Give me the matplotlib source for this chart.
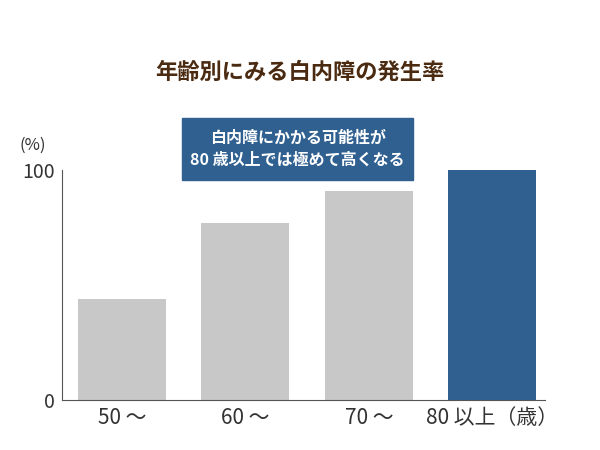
import matplotlib
matplotlib.use('Agg')
import matplotlib.pyplot as plt

plt.rcParams['font.family'] = 'Noto Sans CJK JP'

categories = ['50 ～', '60 ～', '70 ～', '80 以上（歳）']
values = [44, 77, 91, 100]
colors = ['#c8c8c9', '#c8c8c9', '#c8c8c9', '#2f6090']

fig = plt.figure(figsize=(6, 4.5), dpi=100)
ax = fig.add_axes([0.103, 0.111, 0.805, 0.511])
x = list(range(len(values)))
ax.bar(x, values, width=0.713, color=colors)
ax.set_xlim(-0.486, 3.425)
ax.set_ylim(0, 100)
ax.set_yticks([0, 100])
ax.set_yticklabels(['0', '100'], fontsize=14, color='#333333')
ax.set_xticks(x)
ax.set_xticklabels(categories, fontsize=15, color='#333333')
ax.tick_params(length=0, pad=5)
ax.spines['top'].set_visible(False)
ax.spines['right'].set_visible(False)
ax.spines['left'].set_color('#555555')
ax.spines['bottom'].set_color('#555555')

fig.text(0.5, 0.84, '年齢別にみる白内障の発生率', ha='center', va='center',
         fontsize=16, fontweight='bold', color='#4a2a10')
fig.text(0.055, 0.678, '(%)', ha='center', va='center', fontsize=12, color='#333333')

box = plt.Rectangle((0.303, 0.6), 0.385, 0.138, transform=fig.transFigure,
                    color='#2f6090', zorder=5)
fig.patches.append(box)
fig.text(0.496, 0.669, '白内障にかかる可能性が\n80 歳以上では極めて高くなる', ha='center',
         va='center', fontsize=11.5, color='white', fontweight='bold',
         linespacing=1.4, zorder=6)

fig.savefig('out.png')
